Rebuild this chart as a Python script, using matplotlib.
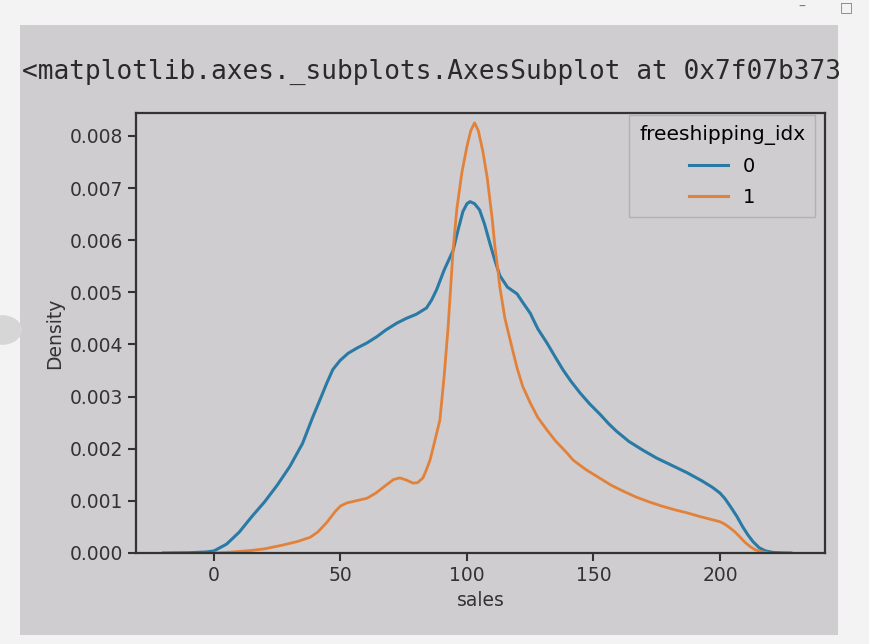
import matplotlib
matplotlib.use("Agg")
import matplotlib.pyplot as plt
from matplotlib.patches import Rectangle, Circle

# ---- data ----
sales0 = [-20, -10, -3, 0, 5, 10, 15, 20, 25, 30, 35, 39, 42, 44.7, 47, 49.8, 53, 56.5,
          60.5, 64.4, 68, 72.3, 76, 80, 84, 86, 88, 91, 94.5, 96.5, 98.4, 100, 101.2, 103,
          105, 107, 109, 111, 113, 116, 119.8, 122, 125, 128, 131.6, 135, 138, 141, 144.7,
          148.5, 152.6, 156, 159, 164, 169.6, 175, 181, 187, 193, 197, 200, 202, 204, 206.7,
          209, 211, 213, 215.5, 218, 221, 225, 228]
dens0 = [0.0, 0.000005, 0.00002, 0.00004, 0.00017, 0.0004, 0.0007, 0.00098, 0.0013, 0.00166,
         0.0021, 0.0026, 0.00295, 0.00327, 0.00352, 0.00369, 0.00383, 0.00393,
         0.00403, 0.00415, 0.00428, 0.00441, 0.0045, 0.00458, 0.0047, 0.00485, 0.00505, 0.00543,
         0.0058, 0.0062, 0.00655, 0.0067, 0.00674, 0.0067,
         0.00658, 0.0063, 0.00595, 0.00562, 0.00532, 0.0051, 0.00497, 0.00481, 0.0046, 0.0043,
         0.00403, 0.00375, 0.00351, 0.0033, 0.00307,
         0.00286, 0.00266, 0.00248, 0.00234, 0.00214, 0.00197, 0.00182, 0.00168, 0.00154, 0.00138,
         0.00126, 0.00115, 0.00104, 0.0009, 0.0007,
         0.0005, 0.00035, 0.00022, 0.0001, 0.00004, 0.00001, 0.000002, 0.0]

sales1 = [0, 5, 10, 15, 20, 27, 33, 38, 41, 44.5, 48, 50, 52.5, 56, 60.5, 64, 68, 71, 73.5,
          76, 78.7, 80.5, 82.6, 84, 85.4, 87.4, 89.3, 91, 92.5, 94.5, 96, 98, 100, 101.5, 103,
          104.5, 106.3, 108, 110, 111, 112.3, 113, 115, 116, 118, 119.8, 122, 125, 128, 131.6,
          135, 139.5, 142, 147, 152, 157, 162, 167, 172, 177, 182, 187, 192, 196, 200, 202,
          204, 206, 208, 210, 212, 214, 216, 219]
dens1 = [0.0, 0.00001, 0.00003, 0.00005, 0.00008, 0.00015, 0.00022, 0.0003, 0.0004, 0.00058,
         0.0008, 0.0009, 0.00096, 0.001, 0.00105, 0.00115, 0.0013, 0.00141, 0.00144,
         0.0014, 0.00134, 0.00135, 0.00144, 0.0016, 0.00178, 0.00217, 0.00255, 0.0034, 0.0043,
         0.0058, 0.0066, 0.0073, 0.0078, 0.0081, 0.00825,
         0.0081, 0.0077, 0.0072, 0.0064, 0.0059, 0.0054, 0.0051, 0.0045, 0.0043, 0.0039, 0.00355,
         0.0032, 0.00288, 0.0026, 0.00236,
         0.00215, 0.00192, 0.00178, 0.0016, 0.00145, 0.0013, 0.00118, 0.00107, 0.00098, 0.0009,
         0.00083, 0.00077, 0.0007, 0.00065, 0.0006, 0.00055,
         0.00048, 0.0004, 0.0003, 0.0002, 0.00012, 0.00006, 0.00003, 0.0]

xticks = [0, 50, 100, 150, 200]
yticks = [0.000, 0.001, 0.002, 0.003, 0.004, 0.005, 0.006, 0.007, 0.008]
series_labels = ["0", "1"]
legend_title = "freeshipping_idx"
out_text = "<matplotlib.axes._subplots.AxesSubplot at 0x7f07b373"

# ---- figure ----
fig = plt.figure(figsize=(8.7, 6.44), dpi=100)
fig.patch.set_facecolor("#f3f3f3")

W, H = 870, 644
photo = Rectangle((20 / W, 1 - 635 / H), (838 - 20) / W, (635 - 25) / H,
                  transform=fig.transFigure, facecolor="#cfcdcf", edgecolor="none", zorder=-5)
fig.patches.append(photo)

# side button & window controls
fig.patches.append(Circle((2 / W, 1 - 330 / H), 20 / W, transform=fig.transFigure,
                          facecolor="#d6d6d6", edgecolor="none", zorder=-5))
fig.text(802 / W, 1 - 7 / H, "–", fontsize=10, color="#777777", ha="center", va="center")
fig.text(846 / W, 1 - 7 / H, "□", fontsize=10, color="#777777", ha="center", va="center")

fig.text(22 / W, 1 - 72 / H, out_text, family="DejaVu Sans Mono", fontsize=18.8,
         color="#2a2a2a", ha="left", va="center")

ax = fig.add_axes([136 / W, 1 - 553 / H, (825 - 136) / W, (553 - 113) / H])
ax.set_facecolor("none")
ax.set_zorder(2)

c0 = "#2a7aa6"
c1 = "#e2823a"
ax.plot(sales0, dens0, color=c0, lw=2.2, label=series_labels[0], solid_joinstyle="round")
ax.plot(sales1, dens1, color=c1, lw=2.0, label=series_labels[1], solid_joinstyle="round")

ax.set_xlim(-30.8, 241.5)
ax.set_ylim(0, 0.00844)
ax.set_xticks(xticks)
ax.set_yticks(yticks)
ax.set_yticklabels([f"{v:.3f}" for v in yticks])
ax.tick_params(labelsize=13.5, colors="#333333", length=6, width=1.5)
for s in ax.spines.values():
    s.set_linewidth(1.6)
    s.set_color("#333333")

ax.set_xlabel("sales", fontsize=13.5, color="#333333")
ax.set_ylabel("Density", fontsize=13.5, color="#333333")

leg = ax.legend(title=legend_title, loc="upper right", fontsize=14, title_fontsize=14.5,
                bbox_to_anchor=(815 / W, 1 - 115 / H), bbox_transform=fig.transFigure,
                borderaxespad=0, labelspacing=0.62, borderpad=0.5,
                frameon=True, fancybox=False, edgecolor="#aaaaaa", facecolor="none")
for line in leg.get_lines():
    line.set_linewidth(2.2)

fig.savefig("out.png", dpi=100, facecolor=fig.get_facecolor())
